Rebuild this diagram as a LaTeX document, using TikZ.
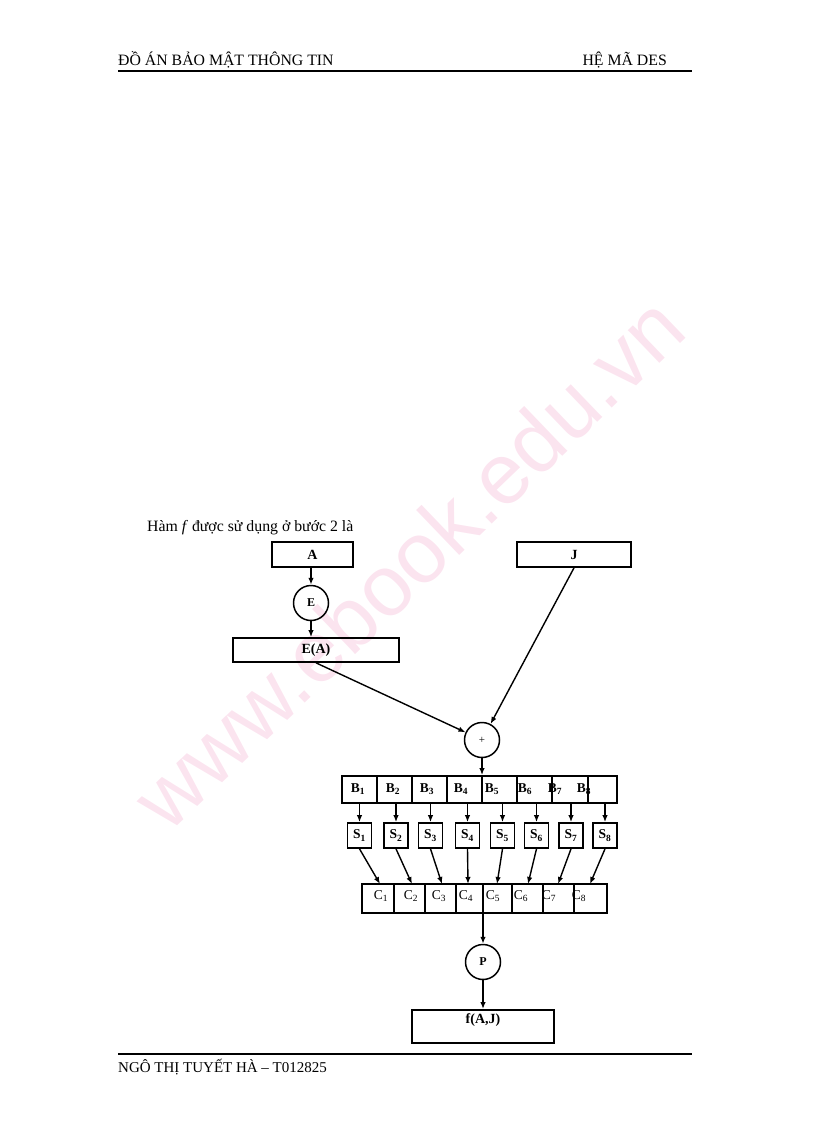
\documentclass[tikz,border=0pt]{standalone}
\usepackage{fontspec}
\setmainfont{Liberation Serif}
\newfontfamily\wmfont{Liberation Sans}
\usetikzlibrary{arrows.meta}
\definecolor{wm}{RGB}{251,228,239}
\begin{document}
\begin{tikzpicture}[x=1pt,y=-1pt,
  box/.style={draw,line width=1.7pt,inner sep=0pt,font=\bfseries\fontsize{14}{16}\selectfont},
  sbox/.style={box,minimum width=24pt,minimum height=25pt,font=\bfseries\fontsize{13.5}{15}\selectfont},
  circ/.style={draw,circle,line width=1.5pt,inner sep=0pt,minimum size=35pt,font=\bfseries\fontsize{12}{14}\selectfont},
  arr/.style={line width=1.4pt,-{Latex[length=7pt,width=5.5pt]}},
  div/.style={line width=1.3pt},
  blbl/.style={inner sep=0pt,font=\bfseries\fontsize{13.5}{15}\selectfont},
  clbl/.style={inner sep=0pt,font=\fontsize{13.5}{15}\selectfont},
  txt/.style={inner sep=0pt,font=\fontsize{15.8}{18}\selectfont}]
\useasboundingbox (0,0) rectangle (816,1123);
% watermark
\node[rotate=43.8,text=wm,font=\wmfont\fontsize{86}{90}\selectfont,inner sep=0pt] (wmark) at (408,562) {www.ebook.edu.vn};
% header and footer
\node[txt,anchor=base west] (h1) at (118,66) {ĐỒ ÁN BẢO MẬT THÔNG TIN};
\node[txt,anchor=base east] (h2) at (667,66) {HỆ MÃ DES};
\draw[line width=1.6pt] (118,71) -- (692,71);
\draw[line width=1.6pt] (118,1054) -- (692,1054);
\node[txt,anchor=base west,font=\fontsize{15}{18}\selectfont] (ft) at (118,1072) {NGÔ THỊ TUYẾT HÀ -- T012825};
\node[txt,anchor=base west] (intro) at (147,531) {Hàm \textit{f} được sử dụng ở bước 2 là};
% top part
\node[box,minimum width=81pt,minimum height=25pt] (A) at (312.5,554.5) {A};
\node[box,minimum width=114pt,minimum height=25pt] (J) at (574,554.5) {J};
\node[circ] (E) at (311,603) {E};
\node[box,minimum width=166pt,minimum height=24pt] (EA) at (316,650) {E(A)};
\node[circ,font=\fontsize{11}{13}\selectfont] (plus) at (482,740) {+};
\draw[arr] (A.south -| E.north) -- (E.north);
\draw[arr] (E.south) -- (E.south |- EA.north);
\draw[arr] (EA.south) -- (plus);
\draw[arr] (J.south) -- (plus);
% B row
\node[draw,line width=1.8pt,inner sep=0pt,minimum width=275pt,minimum height=27pt] (Brow) at (479.5,789.5) {};
\foreach \x in {377,412,447,517,552,588}{\draw[div] (\x,776) -- (\x,803);}
\draw[div] (482,776) -- (482,803);
\draw[arr] (plus.south) -- (Brow.north -| plus.south);
\foreach \i/\x in {1/358,2/393,3/427,4/461,5/492,6/525,7/555,8/584}{
  \node[blbl] (b\i) at (\x,789) {B\textsubscript{\i}};}
% S boxes
\foreach \i/\x in {1/359.5,2/396,3/430.5,4/467.5,5/502.5,6/536.5,7/571,8/605}{
  \node[sbox] (S\i) at (\x,835.5) {S\textsubscript{\i}};
  \draw[arr] (Brow.south -| S\i.north) -- (S\i.north);}
% C row
\node[draw,line width=1.8pt,inner sep=0pt,minimum width=245pt,minimum height=29pt] (Crow) at (484.5,898.5) {};
\foreach \x in {394,425,456,512,543,574}{\draw[div] (\x,884) -- (\x,913);}
\foreach \i/\x in {1/381,2/411,3/439,4/466,5/493,6/521,7/549,8/579}{
  \node[clbl] (c\i) at (\x,896) {C\textsubscript{\i}};}
\foreach \i/\x in {1/380,2/412,3/442,4/468,5/497,6/528,7/558,8/590}{
  \coordinate (ct\i) at (\x,884);
  \draw[arr] (S\i.south) -- (ct\i);}
% P and output
\node[circ] (P) at (483,962) {P};
\node[box,minimum width=142pt,minimum height=33pt,anchor=north] (F) at (483,1009) {};
\node[inner sep=0pt,font=\bfseries\fontsize{14}{16}\selectfont] (Ft) at (483,1020) {f(A,J)};
\draw[div] (483,884) -- (483,913);
\draw[arr] (Crow.south -| P.north) -- (P.north);
\draw[arr] (P.south) -- (F.north);
\end{tikzpicture}
\end{document}
